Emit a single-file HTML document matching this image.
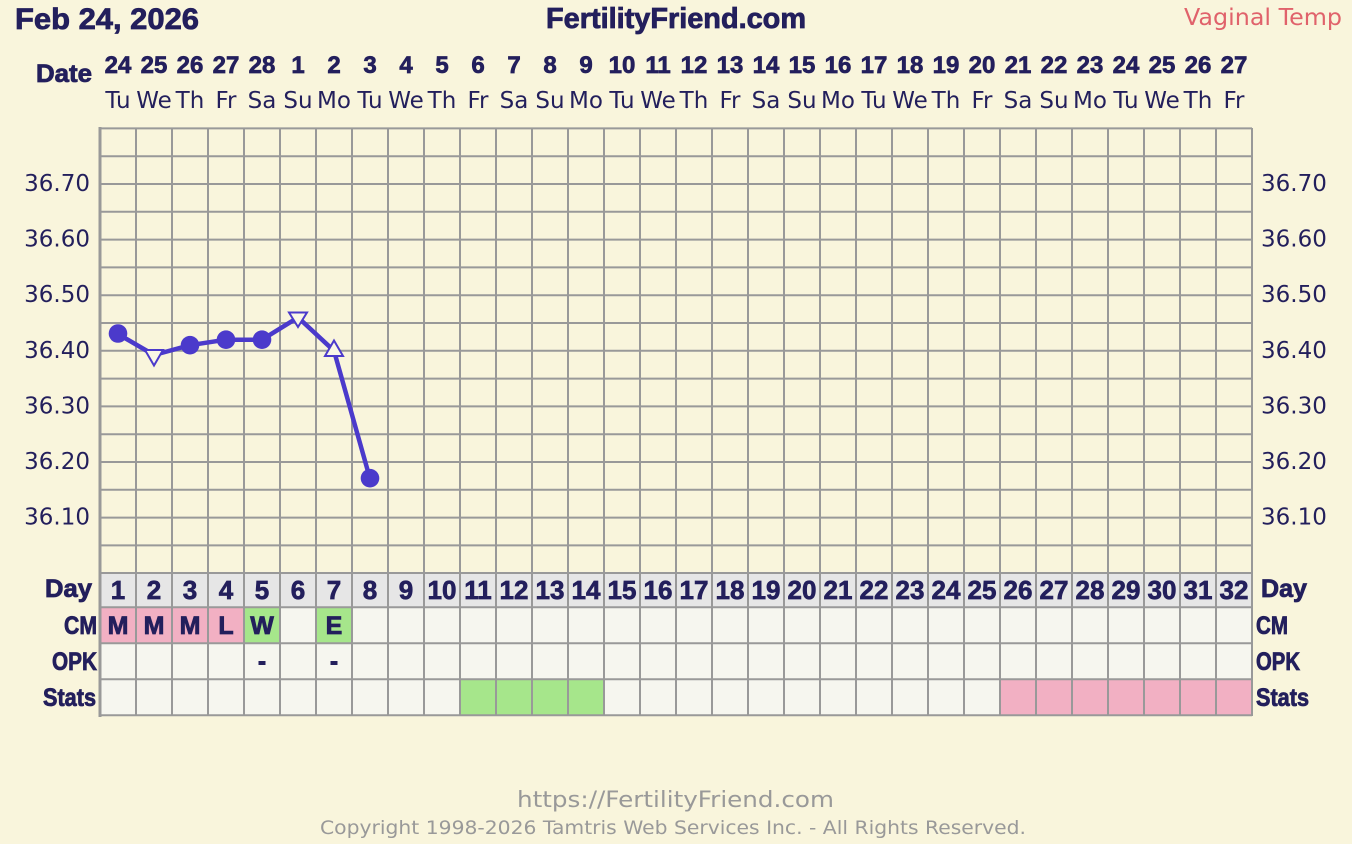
<!DOCTYPE html>
<html><head><meta charset="utf-8"><style>
html,body{margin:0;padding:0;background:#f9f5dc;}
svg{display:block;}
</style></head><body>
<svg width="1352" height="844" viewBox="0 0 1352 844" xmlns="http://www.w3.org/2000/svg">
<rect x="0" y="0" width="1352" height="844" fill="#f9f5dc"/>
<!-- Titles -->
<g font-family="'Liberation Sans', sans-serif" font-weight="bold" fill="#231f5c" stroke="#231f5c" stroke-width="0.8">
<text x="15" y="29" font-size="30" textLength="184" lengthAdjust="spacingAndGlyphs">Feb 24, 2026</text>
<text x="546" y="28" font-size="29" textLength="260" lengthAdjust="spacingAndGlyphs">FertilityFriend.com</text>
<text x="36" y="82" font-size="25" textLength="56" lengthAdjust="spacingAndGlyphs">Date</text>
</g>
<text x="1184" y="25" font-family="'DejaVu Sans', sans-serif" font-size="23" fill="#e0626b" textLength="158" lengthAdjust="spacingAndGlyphs">Vaginal Temp</text>

<!-- Date numbers -->
<g font-family="'Liberation Sans', sans-serif" font-weight="bold" font-size="24" fill="#231f5c" stroke="#231f5c" stroke-width="0.7" text-anchor="middle">
<text x="118" y="73">24</text><text x="154" y="73">25</text><text x="190" y="73">26</text><text x="226" y="73">27</text>
<text x="262" y="73">28</text><text x="298" y="73">1</text><text x="334" y="73">2</text><text x="370" y="73">3</text>
<text x="406" y="73">4</text><text x="442" y="73">5</text><text x="478" y="73">6</text><text x="514" y="73">7</text>
<text x="550" y="73">8</text><text x="586" y="73">9</text><text x="622" y="73">10</text><text x="658" y="73">11</text>
<text x="694" y="73">12</text><text x="730" y="73">13</text><text x="766" y="73">14</text><text x="802" y="73">15</text>
<text x="838" y="73">16</text><text x="874" y="73">17</text><text x="910" y="73">18</text><text x="946" y="73">19</text>
<text x="982" y="73">20</text><text x="1018" y="73">21</text><text x="1054" y="73">22</text><text x="1090" y="73">23</text>
<text x="1126" y="73">24</text><text x="1162" y="73">25</text><text x="1198" y="73">26</text><text x="1234" y="73">27</text>
</g>
<!-- Day names -->
<g font-family="'DejaVu Sans', sans-serif" font-size="23" fill="#231f5c" text-anchor="middle">
<text x="118" y="108">Tu</text><text x="154" y="108">We</text><text x="190" y="108">Th</text><text x="226" y="108">Fr</text>
<text x="262" y="108">Sa</text><text x="298" y="108">Su</text><text x="334" y="108">Mo</text><text x="370" y="108">Tu</text>
<text x="406" y="108">We</text><text x="442" y="108">Th</text><text x="478" y="108">Fr</text><text x="514" y="108">Sa</text>
<text x="550" y="108">Su</text><text x="586" y="108">Mo</text><text x="622" y="108">Tu</text><text x="658" y="108">We</text>
<text x="694" y="108">Th</text><text x="730" y="108">Fr</text><text x="766" y="108">Sa</text><text x="802" y="108">Su</text>
<text x="838" y="108">Mo</text><text x="874" y="108">Tu</text><text x="910" y="108">We</text><text x="946" y="108">Th</text>
<text x="982" y="108">Fr</text><text x="1018" y="108">Sa</text><text x="1054" y="108">Su</text><text x="1090" y="108">Mo</text>
<text x="1126" y="108">Tu</text><text x="1162" y="108">We</text><text x="1198" y="108">Th</text><text x="1234" y="108">Fr</text>
</g>

<!-- Table backgrounds -->
<rect x="100" y="573" width="1152" height="34.5" fill="#e6e6e6"/>
<rect x="100" y="607.3" width="1152" height="108" fill="#f6f6ef"/>
<!-- CM colors -->
<rect x="100" y="607.3" width="144" height="36" fill="#f2b0c3"/>
<rect x="244" y="607.3" width="36" height="36" fill="#a6e68b"/>
<rect x="316" y="607.3" width="36" height="36" fill="#a6e68b"/>
<!-- Stats colors -->
<rect x="460" y="679.3" width="144" height="36" fill="#a6e68b"/>
<rect x="1000" y="679.3" width="252" height="36" fill="#f2b0c3"/>

<!-- Grid -->
<g stroke="#999999" stroke-width="2" fill="none">
<path d="M100 128.4H1252M100 156.2H1252M100 184H1252M100 211.8H1252M100 239.6H1252M100 267.4H1252M100 295.2H1252M100 323H1252M100 350.8H1252M100 378.6H1252M100 406.4H1252M100 434.2H1252M100 462H1252M100 489.8H1252M100 517.6H1252M100 545.4H1252M100 573H1252M100 607.3H1252M100 643.3H1252M100 679.3H1252M100 715.3H1252"/>
<path d="M136 128V716M172 128V716M208 128V716M244 128V716M280 128V716M316 128V716M352 128V716M388 128V716M424 128V716M460 128V716M496 128V716M532 128V716M568 128V716M604 128V716M640 128V716M676 128V716M712 128V716M748 128V716M784 128V716M820 128V716M856 128V716M892 128V716M928 128V716M964 128V716M1000 128V716M1036 128V716M1072 128V716M1108 128V716M1144 128V716M1180 128V716M1216 128V716M1252 128V716"/>
<path d="M100 127V717" stroke-width="3"/>
</g>

<!-- Temperature labels -->
<g font-family="'DejaVu Sans', sans-serif" font-size="23" fill="#231f5c">
<g text-anchor="end">
<text x="90" y="191">36.70</text><text x="90" y="246.6">36.60</text><text x="90" y="302.2">36.50</text>
<text x="90" y="357.8">36.40</text><text x="90" y="413.4">36.30</text><text x="90" y="469">36.20</text><text x="90" y="524.6">36.10</text>
</g>
<text x="1261" y="191">36.70</text><text x="1261" y="246.6">36.60</text><text x="1261" y="302.2">36.50</text>
<text x="1261" y="357.8">36.40</text><text x="1261" y="413.4">36.30</text><text x="1261" y="469">36.20</text><text x="1261" y="524.6">36.10</text>
</g>

<!-- Row labels -->
<g font-family="'Liberation Sans', sans-serif" font-weight="bold" fill="#231f5c" stroke="#231f5c" stroke-width="0.8" font-size="25">
<text x="45" y="597" textLength="47" lengthAdjust="spacingAndGlyphs">Day</text>
<text x="64" y="634" textLength="33" lengthAdjust="spacingAndGlyphs">CM</text>
<text x="52" y="670" textLength="45" lengthAdjust="spacingAndGlyphs">OPK</text>
<text x="43" y="706" textLength="53" lengthAdjust="spacingAndGlyphs">Stats</text>
<text x="1261" y="597" textLength="46" lengthAdjust="spacingAndGlyphs">Day</text>
<text x="1256" y="634" textLength="32" lengthAdjust="spacingAndGlyphs">CM</text>
<text x="1256" y="670" textLength="44" lengthAdjust="spacingAndGlyphs">OPK</text>
<text x="1256" y="706" textLength="53" lengthAdjust="spacingAndGlyphs">Stats</text>
</g>

<!-- Day numbers -->
<g font-family="'Liberation Sans', sans-serif" font-weight="bold" font-size="26" fill="#231f5c" stroke="#231f5c" stroke-width="0.7" text-anchor="middle">
<text x="118" y="599">1</text><text x="154" y="599">2</text><text x="190" y="599">3</text><text x="226" y="599">4</text>
<text x="262" y="599">5</text><text x="298" y="599">6</text><text x="334" y="599">7</text><text x="370" y="599">8</text>
<text x="406" y="599">9</text><text x="442" y="599">10</text><text x="478" y="599">11</text><text x="514" y="599">12</text>
<text x="550" y="599">13</text><text x="586" y="599">14</text><text x="622" y="599">15</text><text x="658" y="599">16</text>
<text x="694" y="599">17</text><text x="730" y="599">18</text><text x="766" y="599">19</text><text x="802" y="599">20</text>
<text x="838" y="599">21</text><text x="874" y="599">22</text><text x="910" y="599">23</text><text x="946" y="599">24</text>
<text x="982" y="599">25</text><text x="1018" y="599">26</text><text x="1054" y="599">27</text><text x="1090" y="599">28</text>
<text x="1126" y="599">29</text><text x="1162" y="599">30</text><text x="1198" y="599">31</text><text x="1234" y="599">32</text>
</g>

<!-- CM letters -->
<g font-family="'Liberation Sans', sans-serif" font-weight="bold" font-size="25" fill="#231f5c" stroke="#231f5c" stroke-width="0.8" text-anchor="middle">
<text x="118" y="634">M</text><text x="154" y="634">M</text><text x="190" y="634">M</text><text x="226" y="634">L</text>
<text x="262" y="634">W</text><text x="334" y="634">E</text>
</g>
<!-- OPK dashes -->
<rect x="258.5" y="661" width="7" height="4" fill="#231f5c"/>
<rect x="330.5" y="661" width="7" height="4" fill="#231f5c"/>

<!-- Temperature series -->
<polyline points="118,334 154,355 190,345.2 226,339.7 262,339.7 298,317.4 334,350.8 370,478.7" fill="none" stroke="#4b3acb" stroke-width="4.5" stroke-linejoin="round"/>
<g fill="#4b3acb">
<circle cx="118" cy="333.5" r="9.3"/>
<circle cx="190" cy="345.2" r="9.3"/>
<circle cx="226" cy="339.7" r="9.3"/>
<circle cx="262" cy="339.7" r="9.3"/>
<circle cx="370" cy="478.2" r="9.3"/>
</g>
<g fill="#faf7e6" stroke="#4b3acb" stroke-width="2">
<polygon points="145,350 163,350 154,365.5"/>
<polygon points="289,312.5 307,312.5 298,327"/>
<polygon points="334,340.5 343,356 325,356"/>
</g>

<!-- Footer -->
<g font-family="'DejaVu Sans', sans-serif" fill="#999999">
<text x="517" y="807" font-size="22" textLength="317" lengthAdjust="spacingAndGlyphs">https://FertilityFriend.com</text>
<text x="320" y="834" font-size="19" textLength="706" lengthAdjust="spacingAndGlyphs">Copyright 1998-2026 Tamtris Web Services Inc. - All Rights Reserved.</text>
</g>
</svg>
</body></html>
